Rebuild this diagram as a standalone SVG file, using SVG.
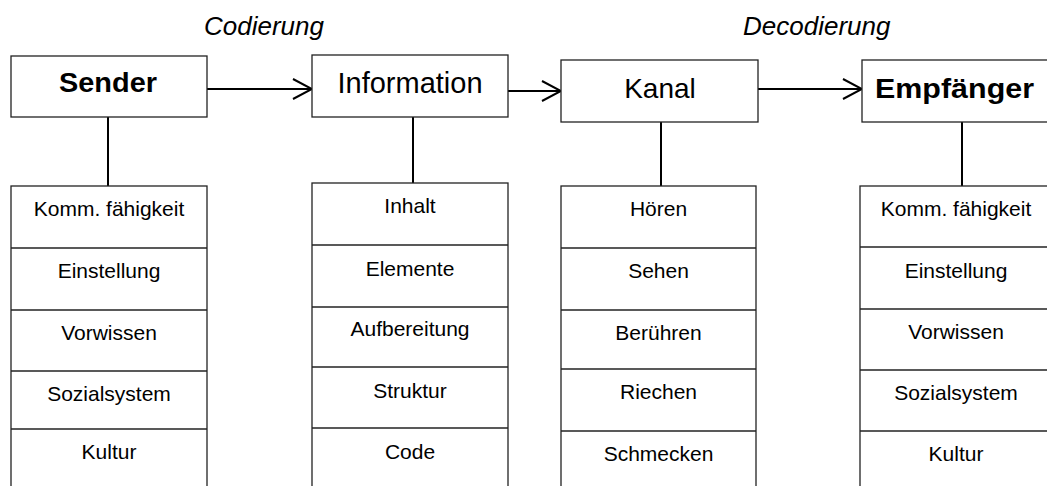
<svg xmlns="http://www.w3.org/2000/svg" width="1047" height="486" viewBox="0 0 1047 486">
  <defs>
    <marker id="chev" viewBox="0 0 22 22" refX="20" refY="11" markerWidth="22" markerHeight="22" markerUnits="userSpaceOnUse" orient="auto">
      <path d="M1,1 L20,11 L1,21" fill="none" stroke="#000" stroke-width="2"/>
    </marker>
  </defs>
  <style>
    .box { fill: #fff; stroke: #222; stroke-width: 1.3; }
    .div { stroke: #222; stroke-width: 1.3; }
    .head { font-family: "Liberation Sans", Arial, sans-serif; font-size: 28px; fill: #000; text-anchor: middle; }
    .bold { font-weight: bold; }
    .item { font-family: "Liberation Sans", Arial, sans-serif; font-size: 21px; fill: #000; text-anchor: middle; }
    .phase { font-family: "Liberation Sans", Arial, sans-serif; font-size: 26px; font-style: italic; fill: #000; }
    .conn { stroke: #000; stroke-width: 2; fill: none; }
  </style>
  <rect width="1047" height="486" fill="#fff"/>

  <!-- phase labels -->
  <text class="phase" x="204" y="35">Codierung</text>
  <text class="phase" x="743" y="35">Decodierung</text>

  <!-- connectors -->
  <g id="connectors">
    <line class="conn" x1="207" y1="89" x2="312" y2="89" marker-end="url(#chev)"/>
    <line class="conn" x1="508" y1="91" x2="561" y2="91" marker-end="url(#chev)"/>
    <line class="conn" x1="758" y1="89" x2="862" y2="89" marker-end="url(#chev)"/>
    <line class="conn" x1="108" y1="117" x2="108" y2="186"/>
    <line class="conn" x1="413" y1="117" x2="413" y2="183"/>
    <line class="conn" x1="661" y1="122" x2="661" y2="186"/>
    <line class="conn" x1="962" y1="122" x2="962" y2="186"/>
  </g>

  <!-- Sender -->
  <g id="sender">
    <rect class="box" x="11" y="56" width="196" height="61"/>
    <text class="head bold" x="108" y="92" textLength="98" lengthAdjust="spacingAndGlyphs">Sender</text>
  </g>
  <g id="sender-list">
    <rect class="box" x="11" y="186" width="196" height="310"/>
    <line class="div" x1="11" y1="248" x2="207" y2="248"/>
    <line class="div" x1="11" y1="310" x2="207" y2="310"/>
    <line class="div" x1="11" y1="371" x2="207" y2="371"/>
    <line class="div" x1="11" y1="429" x2="207" y2="429"/>
    <text class="item" x="109" y="216">Komm. fähigkeit</text>
    <text class="item" x="109" y="278">Einstellung</text>
    <text class="item" x="109" y="340">Vorwissen</text>
    <text class="item" x="109" y="401">Sozialsystem</text>
    <text class="item" x="109" y="459">Kultur</text>
  </g>

  <!-- Information -->
  <g id="information">
    <rect class="box" x="312" y="55" width="196" height="62"/>
    <text class="head" x="410" y="92.5" style="font-size:29px">Information</text>
  </g>
  <g id="information-list">
    <rect class="box" x="312" y="183" width="196" height="313"/>
    <line class="div" x1="312" y1="245" x2="508" y2="245"/>
    <line class="div" x1="312" y1="307" x2="508" y2="307"/>
    <line class="div" x1="312" y1="367" x2="508" y2="367"/>
    <line class="div" x1="312" y1="428" x2="508" y2="428"/>
    <text class="item" x="410" y="213">Inhalt</text>
    <text class="item" x="410" y="276">Elemente</text>
    <text class="item" x="410" y="336">Aufbereitung</text>
    <text class="item" x="410" y="398">Struktur</text>
    <text class="item" x="410" y="459">Code</text>
  </g>

  <!-- Kanal -->
  <g id="kanal">
    <rect class="box" x="561" y="60" width="197" height="62"/>
    <text class="head" x="660" y="98">Kanal</text>
  </g>
  <g id="kanal-list">
    <rect class="box" x="561" y="186" width="195" height="310"/>
    <line class="div" x1="561" y1="248" x2="756" y2="248"/>
    <line class="div" x1="561" y1="310" x2="756" y2="310"/>
    <line class="div" x1="561" y1="369" x2="756" y2="369"/>
    <line class="div" x1="561" y1="431" x2="756" y2="431"/>
    <text class="item" x="658.5" y="216">Hören</text>
    <text class="item" x="658.5" y="278">Sehen</text>
    <text class="item" x="658.5" y="340">Berühren</text>
    <text class="item" x="658.5" y="399">Riechen</text>
    <text class="item" x="658.5" y="461">Schmecken</text>
  </g>

  <!-- Empfänger -->
  <g id="empfaenger">
    <rect class="box" x="862" y="60" width="200" height="62"/>
    <text class="head bold" x="954.5" y="98" textLength="159" lengthAdjust="spacingAndGlyphs">Empfänger</text>
  </g>
  <g id="empfaenger-list">
    <rect class="box" x="860" y="186" width="196" height="310"/>
    <line class="div" x1="860" y1="247" x2="1056" y2="247"/>
    <line class="div" x1="860" y1="309" x2="1056" y2="309"/>
    <line class="div" x1="860" y1="370" x2="1056" y2="370"/>
    <line class="div" x1="860" y1="431" x2="1056" y2="431"/>
    <text class="item" x="956" y="216">Komm. fähigkeit</text>
    <text class="item" x="956" y="278">Einstellung</text>
    <text class="item" x="956" y="339">Vorwissen</text>
    <text class="item" x="956" y="400">Sozialsystem</text>
    <text class="item" x="956" y="461">Kultur</text>
  </g>
</svg>
